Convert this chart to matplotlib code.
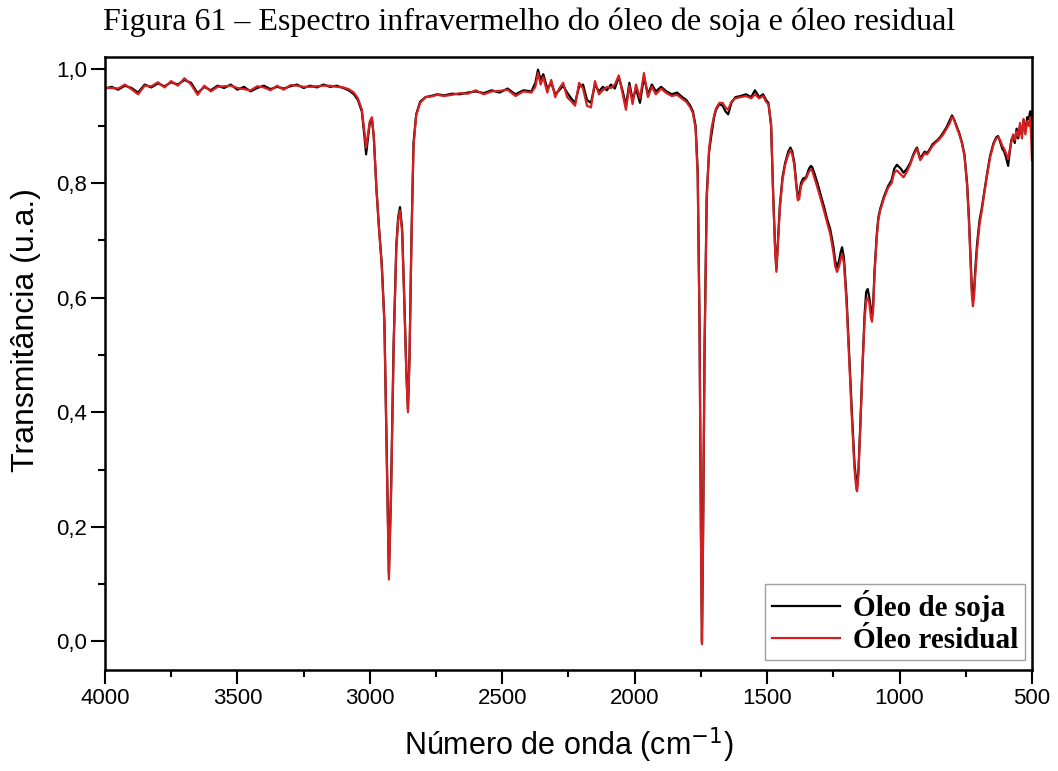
import matplotlib
matplotlib.use("Agg")
import matplotlib.pyplot as plt
from matplotlib.ticker import MultipleLocator, FuncFormatter

# Wavenumber grid (cm-1), ten points per row
wavenumber = [
    4000, 3975, 3950, 3925, 3900, 3875, 3850, 3825, 3800, 3775,
    3750, 3725, 3700, 3675, 3650, 3625, 3600, 3575, 3550, 3525,
    3500, 3475, 3450, 3425, 3400, 3375, 3350, 3325, 3300, 3275,
    3250, 3225, 3200, 3175, 3150, 3125, 3100, 3080, 3060, 3045,
    3030, 3020, 3014, 3008, 3000, 2992, 2985, 2975, 2965, 2955,
    2945, 2935, 2928, 2920, 2910, 2900, 2893, 2886, 2878, 2870,
    2862, 2856, 2850, 2843, 2835, 2825, 2810, 2790, 2770, 2745,
    2720, 2690, 2660, 2630, 2600, 2570, 2540, 2510, 2480, 2450,
    2420, 2390, 2375, 2365, 2355, 2345, 2330, 2315, 2300, 2285,
    2270, 2255, 2240, 2225, 2210, 2195, 2180, 2165, 2150, 2135,
    2120, 2105, 2090, 2075, 2060, 2045, 2033, 2020, 2008, 1995,
    1980, 1965, 1950, 1935, 1920, 1900, 1880, 1860, 1840, 1820,
    1805, 1790, 1780, 1770, 1762, 1755, 1750, 1746, 1742, 1736,
    1728, 1719, 1710, 1700, 1693, 1680, 1668, 1657, 1647, 1635,
    1620, 1600, 1580, 1560, 1546, 1530, 1515, 1504, 1495, 1485,
    1477, 1470, 1465, 1460, 1452, 1442, 1432, 1420, 1412, 1405,
    1397, 1390, 1384, 1379, 1372, 1364, 1353, 1342, 1335, 1330,
    1322, 1310, 1295, 1283, 1274, 1262, 1250, 1243, 1236, 1228,
    1222, 1217, 1210, 1200, 1190, 1180, 1170, 1163, 1160, 1155,
    1148, 1140, 1132, 1126, 1120, 1114, 1108, 1104, 1100, 1094,
    1086, 1080, 1073, 1060, 1043, 1030, 1020, 1010, 995, 985,
    972, 960, 948, 940, 934, 928, 922, 915, 905, 896,
    885, 875, 865, 857, 847, 835, 822, 810, 802, 795,
    785, 775, 765, 755, 745, 738, 732, 727, 723, 719,
    714, 707, 698, 690, 680, 670, 658, 645, 635, 628,
    620, 612, 605, 598, 590, 585, 578, 571, 565, 558,
    552, 545, 538, 532, 525, 518, 512, 507, 503, 500,
]

# Transmittance of soybean oil (black curve)
oleo_soja = [
    0.965, 0.968, 0.963, 0.970, 0.966, 0.958, 0.972, 0.967, 0.974, 0.969,
    0.976, 0.972, 0.980, 0.975, 0.957, 0.968, 0.962, 0.970, 0.966, 0.972,
    0.963, 0.968, 0.960, 0.966, 0.970, 0.964, 0.968, 0.965, 0.969, 0.972,
    0.966, 0.970, 0.967, 0.972, 0.968, 0.970, 0.966, 0.962, 0.955, 0.945,
    0.925, 0.880, 0.850, 0.875, 0.905, 0.912, 0.880, 0.790, 0.720, 0.660,
    0.560, 0.300, 0.118, 0.260, 0.520, 0.690, 0.740, 0.758, 0.720, 0.600,
    0.470, 0.405, 0.500, 0.700, 0.870, 0.920, 0.942, 0.950, 0.952, 0.955,
    0.953, 0.956, 0.955, 0.958, 0.960, 0.957, 0.962, 0.958, 0.965, 0.955,
    0.962, 0.960, 0.975, 0.998, 0.980, 0.990, 0.965, 0.975, 0.955, 0.962,
    0.970, 0.958, 0.948, 0.940, 0.968, 0.972, 0.945, 0.940, 0.972, 0.960,
    0.968, 0.962, 0.972, 0.965, 0.985, 0.960, 0.935, 0.975, 0.945, 0.965,
    0.940, 0.985, 0.955, 0.972, 0.960, 0.968, 0.960, 0.955, 0.958, 0.950,
    0.945, 0.935, 0.925, 0.900, 0.820, 0.550, 0.200, 0.000, 0.180, 0.520,
    0.780, 0.855, 0.885, 0.915, 0.928, 0.938, 0.935, 0.925, 0.920, 0.940,
    0.950, 0.952, 0.955, 0.950, 0.962, 0.950, 0.955, 0.945, 0.940, 0.900,
    0.780, 0.690, 0.650, 0.690, 0.760, 0.810, 0.835, 0.855, 0.862, 0.855,
    0.835, 0.800, 0.775, 0.780, 0.800, 0.808, 0.810, 0.825, 0.830, 0.828,
    0.818, 0.800, 0.775, 0.755, 0.738, 0.720, 0.690, 0.665, 0.652, 0.665,
    0.680, 0.688, 0.670, 0.600, 0.500, 0.400, 0.310, 0.275, 0.270, 0.300,
    0.380, 0.480, 0.570, 0.610, 0.615, 0.600, 0.580, 0.570, 0.585, 0.650,
    0.710, 0.740, 0.755, 0.775, 0.795, 0.805, 0.825, 0.832, 0.825, 0.818,
    0.825, 0.835, 0.850, 0.858, 0.862, 0.852, 0.842, 0.848, 0.855, 0.852,
    0.860, 0.868, 0.872, 0.875, 0.880, 0.888, 0.898, 0.910, 0.918, 0.912,
    0.900, 0.888, 0.872, 0.850, 0.800, 0.740, 0.670, 0.615, 0.595, 0.610,
    0.650, 0.695, 0.735, 0.755, 0.785, 0.815, 0.848, 0.870, 0.880, 0.882,
    0.872, 0.860, 0.855, 0.845, 0.830, 0.850, 0.875, 0.882, 0.870, 0.895,
    0.878, 0.900, 0.885, 0.910, 0.890, 0.915, 0.912, 0.925, 0.925, 0.900,
]

# Transmittance of residual oil (red curve)
oleo_residual = [
    0.966, 0.966, 0.965, 0.972, 0.964, 0.955, 0.970, 0.969, 0.976, 0.967,
    0.978, 0.970, 0.983, 0.972, 0.954, 0.970, 0.960, 0.968, 0.969, 0.970,
    0.966, 0.964, 0.962, 0.969, 0.967, 0.962, 0.970, 0.963, 0.971, 0.970,
    0.968, 0.968, 0.969, 0.970, 0.970, 0.968, 0.967, 0.964, 0.958, 0.948,
    0.928, 0.888, 0.862, 0.882, 0.908, 0.915, 0.882, 0.790, 0.718, 0.655,
    0.555, 0.290, 0.108, 0.250, 0.515, 0.685, 0.735, 0.752, 0.715, 0.595,
    0.465, 0.400, 0.495, 0.695, 0.865, 0.918, 0.940, 0.950, 0.951, 0.954,
    0.952, 0.954, 0.957, 0.956, 0.962, 0.955, 0.960, 0.961, 0.963, 0.952,
    0.960, 0.958, 0.968, 0.992, 0.972, 0.985, 0.958, 0.980, 0.950, 0.965,
    0.975, 0.950, 0.943, 0.935, 0.975, 0.965, 0.935, 0.932, 0.978, 0.955,
    0.962, 0.968, 0.966, 0.972, 0.988, 0.955, 0.928, 0.970, 0.938, 0.972,
    0.948, 0.992, 0.950, 0.968, 0.955, 0.965, 0.957, 0.952, 0.954, 0.947,
    0.942, 0.932, 0.922, 0.895, 0.810, 0.540, 0.190, -0.005, 0.170, 0.510,
    0.770, 0.860, 0.895, 0.918, 0.930, 0.940, 0.940, 0.932, 0.928, 0.942,
    0.948, 0.950, 0.952, 0.948, 0.955, 0.948, 0.952, 0.942, 0.938, 0.905,
    0.775, 0.685, 0.645, 0.688, 0.755, 0.805, 0.832, 0.850, 0.858, 0.850,
    0.830, 0.795, 0.770, 0.772, 0.795, 0.803, 0.808, 0.820, 0.824, 0.822,
    0.810, 0.792, 0.768, 0.748, 0.732, 0.712, 0.680, 0.655, 0.645, 0.655,
    0.668, 0.676, 0.660, 0.590, 0.490, 0.390, 0.300, 0.265, 0.262, 0.295,
    0.375, 0.475, 0.560, 0.595, 0.600, 0.590, 0.565, 0.558, 0.575, 0.645,
    0.705, 0.736, 0.752, 0.772, 0.792, 0.800, 0.818, 0.822, 0.815, 0.810,
    0.820, 0.832, 0.848, 0.855, 0.860, 0.850, 0.840, 0.845, 0.852, 0.850,
    0.858, 0.865, 0.870, 0.873, 0.878, 0.885, 0.895, 0.905, 0.915, 0.912,
    0.898, 0.886, 0.870, 0.848, 0.795, 0.732, 0.660, 0.605, 0.585, 0.600,
    0.640, 0.685, 0.728, 0.750, 0.782, 0.812, 0.845, 0.868, 0.878, 0.880,
    0.875, 0.865, 0.860, 0.852, 0.842, 0.855, 0.872, 0.885, 0.875, 0.890,
    0.882, 0.905, 0.878, 0.912, 0.885, 0.908, 0.900, 0.915, 0.880, 0.840,
]

title = "Figura 61 \u2013 Espectro infravermelho do óleo de soja e óleo residual"

fig = plt.figure(figsize=(10.58, 7.71), dpi=100)
ax = fig.add_axes([0.0992, 0.131, 0.8762, 0.795])

ax.plot(wavenumber, oleo_soja, color="black", lw=1.6, label="Óleo de soja")
ax.plot(wavenumber, oleo_residual, color="#d42020", lw=1.6, label="Óleo residual")

ax.set_xlim(4000, 500)
ax.set_ylim(-0.05, 1.02)

ax.xaxis.set_major_locator(MultipleLocator(500))
ax.xaxis.set_minor_locator(MultipleLocator(250))
ax.yaxis.set_major_locator(MultipleLocator(0.2))
ax.yaxis.set_minor_locator(MultipleLocator(0.1))
ax.yaxis.set_major_formatter(FuncFormatter(lambda v, p: f"{v:.1f}".replace(".", ",")))

ax.tick_params(which="both", direction="out", top=False, right=False,
               labelsize=16, width=1.5)
ax.tick_params(which="major", length=10, pad=3)
ax.tick_params(which="minor", length=5)
for lab in ax.get_xticklabels() + ax.get_yticklabels():
    lab.set_family("Liberation Sans")
for s in ax.spines.values():
    s.set_linewidth(1.8)

ax.set_xlabel("Número de onda (cm$^{-1}$)", fontsize=22, family="Liberation Sans", labelpad=12)
ax.set_ylabel("Transmitância (u.a.)", fontsize=23, family="Liberation Sans")
ax.yaxis.set_label_coords(-0.069, 0.555)

leg = ax.legend(loc="lower right", prop={"family": "Liberation Serif", "weight": "bold", "size": 21},
                frameon=True, fancybox=False, edgecolor="#888888", handlelength=2.35,
                handletextpad=0.45, borderpad=0.22, labelspacing=0.15,
                borderaxespad=0, bbox_to_anchor=(0.9925, 0.016))
leg.get_frame().set_linewidth(1.0)

fig.text(0.5, 0.971, title, ha="center", va="center", fontsize=23, family="Liberation Serif")

plt.savefig("out.png", dpi=100)
